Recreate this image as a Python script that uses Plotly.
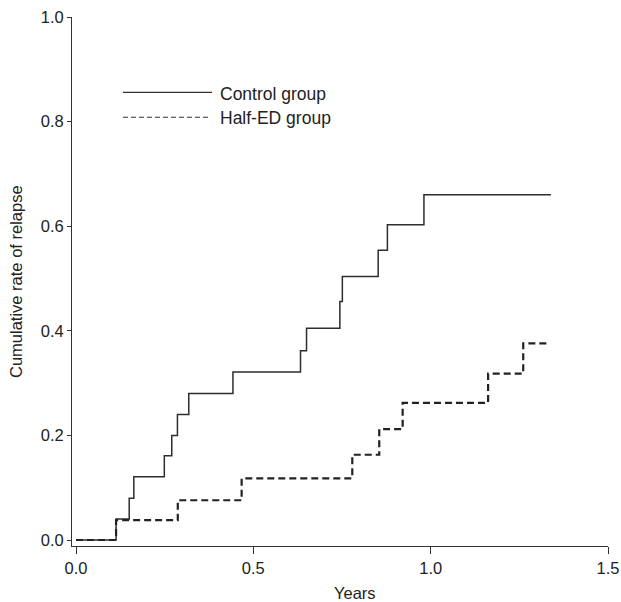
import plotly.graph_objects as go

# Control group (Kaplan-Meier style cumulative relapse, step function)
control_years = [0, 0.113, 0.150, 0.163, 0.249, 0.270, 0.286, 0.318, 0.4425,
                 0.633, 0.650, 0.744, 0.751, 0.852, 0.878, 0.981, 1.339]
control_rate = [0, 0.040, 0.080, 0.121, 0.161, 0.200, 0.240, 0.280, 0.321,
                0.362, 0.405, 0.456, 0.504, 0.554, 0.603, 0.660, 0.660]

# Half-ED group
half_years = [0, 0.113, 0.287, 0.467, 0.779, 0.855, 0.921, 1.162, 1.261, 1.327]
half_rate = [0, 0.038, 0.076, 0.118, 0.163, 0.212, 0.262, 0.318, 0.376, 0.376]

series_names = ["Control group", "Half-ED group"]
x_ticks = [0.0, 0.5, 1.0, 1.5]
y_ticks = [0.0, 0.2, 0.4, 0.6, 0.8, 1.0]

FONT = "Liberation Sans, Arial, Helvetica, sans-serif"
INK = "#222222"

W, H = 621, 602
L, R, T, B = 72, 13, 17, 56
pw, ph = W - L - R, H - T - B


def px_x(p):
    return (p - L) / pw


def px_y(p):
    return (H - B - p) / ph


fig = go.Figure()
fig.add_trace(go.Scatter(
    x=control_years, y=control_rate, mode="lines", name=series_names[0],
    line=dict(shape="hv", color="#2e2e2e", width=1.5), showlegend=False,
    hoverinfo="skip"))
fig.add_trace(go.Scatter(
    x=half_years, y=half_rate, mode="lines", name=series_names[1],
    line=dict(shape="hv", color=INK, width=2.2, dash="7px,4px"), showlegend=False,
    hoverinfo="skip"))

# Hand-drawn legend (long line samples, as in the original)
fig.add_shape(type="line", xref="paper", yref="paper",
              x0=px_x(123), x1=px_x(212), y0=px_y(92.3), y1=px_y(92.3),
              line=dict(color="#333333", width=1.2))
fig.add_shape(type="line", xref="paper", yref="paper",
              x0=px_x(123), x1=px_x(210), y0=px_y(117.3), y1=px_y(117.3),
              line=dict(color="#333333", width=1.1, dash="5px,3px"))
for name, yy in zip(series_names, [94.5, 118.5]):
    fig.add_annotation(text=name, xref="paper", yref="paper",
                       x=px_x(218), y=px_y(yy), xanchor="left", yanchor="middle",
                       showarrow=False, font=dict(family=FONT, size=17.5, color=INK))

# Axis titles
fig.add_annotation(text="Years", xref="paper", yref="paper",
                   x=px_x(355), y=px_y(593), xanchor="center", yanchor="middle",
                   showarrow=False, font=dict(family=FONT, size=16.5, color=INK))
fig.add_annotation(text="Cumulative rate of relapse", xref="paper", yref="paper",
                   x=px_x(15.5), y=0.5, xanchor="center", yanchor="middle", textangle=-90,
                   showarrow=False, font=dict(family=FONT, size=16.5, color=INK))

fig.update_layout(
    width=W, height=H,
    margin=dict(l=L, r=R, t=T, b=B, pad=0, autoexpand=False),
    paper_bgcolor="white", plot_bgcolor="white",
    font=dict(family=FONT, size=16.5, color=INK),
    xaxis=dict(range=[-4 * 1.5 / 532.3, 1.5], tickvals=x_ticks,
               ticktext=[f"{v:.1f}" for v in x_ticks], automargin=False,
               showline=True, linecolor="#333333", linewidth=1,
               ticks="outside", ticklen=7, tickcolor="#333333", tickwidth=1,
               showgrid=False, zeroline=False,
               tickfont=dict(family=FONT, size=16.5, color=INK)),
    yaxis=dict(range=[-6 / 523, 1.0], tickvals=y_ticks,
               ticktext=[f"{v:.1f}" for v in y_ticks], automargin=False,
               showline=True, linecolor="#333333", linewidth=1,
               ticks="outside", ticklen=4, tickcolor="#333333", tickwidth=1,
               showgrid=False, zeroline=False,
               tickfont=dict(family=FONT, size=16.5, color=INK)),
)

fig.write_html("out.html", config={"displayModeBar": False, "responsive": False})

# remove the browser's default page margin so the figure sits at the window origin
with open("out.html", "r", encoding="utf-8") as f:
    html = f.read()
html = html.replace("<head>", "<head><style>html,body{margin:0;padding:0;overflow:hidden;}</style>", 1)
with open("out.html", "w", encoding="utf-8") as f:
    f.write(html)
